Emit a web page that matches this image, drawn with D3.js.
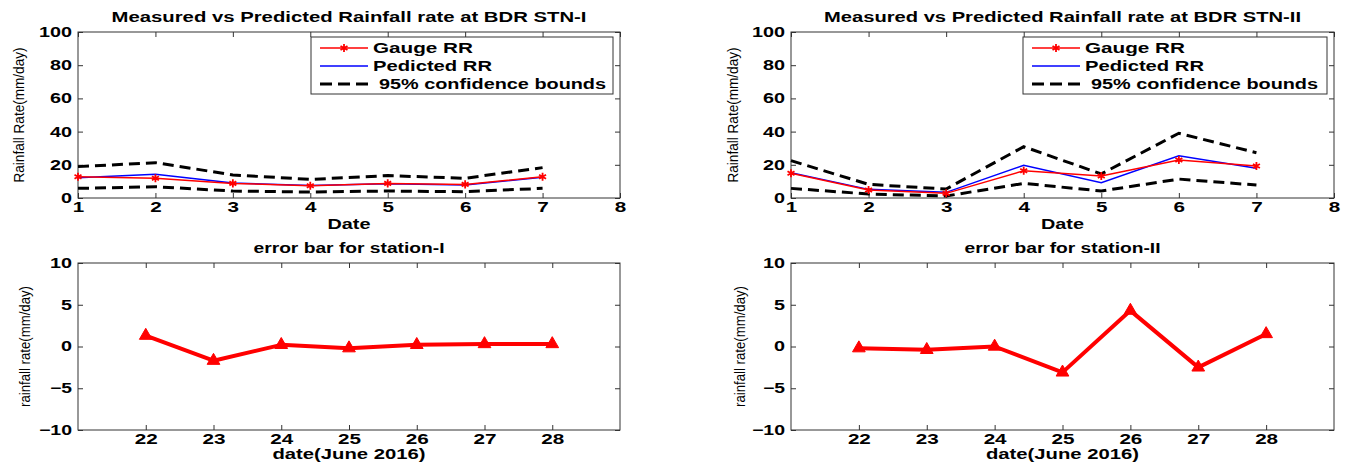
<!DOCTYPE html>
<html><head><meta charset="utf-8">
<script src="https://cdn.jsdelivr.net/npm/d3@7/dist/d3.min.js"></script>
<style>
body{margin:0;background:#fff;}
svg{display:block;}
text{font-family:"Liberation Sans",Arial,sans-serif;}
</style></head>
<body><svg id="c" width="1345" height="465"></svg>
<script>
// ---- data ----
const dates = [1, 2, 3, 4, 5, 6, 7];
const xTicksTop = [1, 2, 3, 4, 5, 6, 7, 8];
const yTicksTop = [0, 20, 40, 60, 80, 100];
const gauge1 = [12.8, 11.9, 8.8, 7.4, 8.8, 8.2, 12.8];
const pred1  = [12.2, 14.3, 9.0, 7.6, 8.6, 7.8, 12.5];
const upper1 = [18.9, 21.3, 13.9, 11.2, 13.5, 11.9, 18.3];
const lower1 = [5.8, 6.8, 4.2, 3.6, 4.2, 3.8, 5.8];
const gauge2 = [14.9, 4.8, 2.8, 16.4, 13.3, 22.9, 19.3];
const pred2  = [15.2, 5.2, 3.4, 19.7, 9.2, 25.5, 17.9];
const upper2 = [22.5, 8.2, 5.4, 30.9, 14.5, 39.0, 27.3];
const lower2 = [5.8, 2.4, 1.2, 8.8, 4.2, 11.4, 7.8];
const errDays = [22, 23, 24, 25, 26, 27, 28];
const yTicksErr = [-10, -5, 0, 5, 10];
const err1 = [1.3, -1.7, 0.2, -0.2, 0.2, 0.3, 0.3];
const err2 = [-0.2, -0.4, 0.0, -3.1, 4.3, -2.5, 1.5];
const legendLabels = ["Gauge RR", "Pedicted RR", "95% confidence bounds"];
const titlesTop = ["Measured vs Predicted Rainfall rate at BDR STN-I", "Measured vs Predicted Rainfall rate at BDR STN-II"];
const titlesBottom = ["error bar for station-I", "error bar for station-II"];

const svg = d3.select("#c");
const AX = "#333";

function styleTicks(g, lenPerChar) {
  g.select(".domain").remove();
  g.selectAll(".tick line").attr("stroke", AX);
  g.selectAll(".tick text")
    .attr("fill", "#000").attr("font-size", 14).attr("font-weight", "bold")
    .each(function() {
      const t = this.textContent;
      if (!t) return;
      let L = 0;
      for (const ch of t) L += (ch === "-" ? 7 : lenPerChar);
      d3.select(this).attr("textLength", L).attr("lengthAdjust", "spacingAndGlyphs");
    });
}

function panel(o) {
  const x = d3.scaleLinear().domain(o.xdom).range([o.l, o.r]);
  const y = d3.scaleLinear().domain(o.ydom).range([o.b, o.t]);
  const g = svg.append("g");
  // axes
  g.append("g").attr("transform", `translate(0,${o.b})`)
    .call(d3.axisBottom(x).tickValues(o.xticks).tickFormat(d3.format("d")).tickSize(-5).tickPadding(4))
    .call(a => styleTicks(a, 11.5));
  g.append("g").attr("transform", `translate(0,${o.t})`)
    .call(d3.axisTop(x).tickValues(o.xticks).tickFormat("").tickSize(-5))
    .call(a => styleTicks(a, 11.5));
  g.append("g").attr("transform", `translate(${o.l},0)`)
    .call(d3.axisLeft(y).tickValues(o.yticks).tickFormat(d3.format("d")).tickSize(-5).tickPadding(6))
    .call(a => styleTicks(a, 11));
  g.append("g").attr("transform", `translate(${o.r},0)`)
    .call(d3.axisRight(y).tickValues(o.yticks).tickFormat("").tickSize(-5))
    .call(a => styleTicks(a, 11));
  g.append("rect").attr("x", o.l).attr("y", o.t).attr("width", o.r - o.l).attr("height", o.b - o.t)
    .attr("fill", "none").attr("stroke", AX).attr("stroke-width", 1);
  // titles
  const cx = (o.l + o.r) / 2;
  g.append("text").attr("x", cx).attr("y", o.titleY).attr("text-anchor", "middle")
    .attr("font-size", 14).attr("font-weight", "bold")
    .attr("textLength", o.titleLen).attr("lengthAdjust", "spacingAndGlyphs").text(o.title);
  g.append("text").attr("x", cx).attr("y", o.xlabY).attr("text-anchor", "middle")
    .attr("font-size", 14).attr("font-weight", "bold")
    .attr("textLength", o.xlabLen).attr("lengthAdjust", "spacingAndGlyphs").text(o.xlab);
  g.append("text").attr("transform", `translate(${o.ylabX},${(o.t + o.b) / 2}) rotate(-90)`)
    .attr("text-anchor", "middle").attr("font-size", 15)
    .attr("textLength", o.ylabLen).attr("lengthAdjust", "spacingAndGlyphs").text(o.ylab);
  return {g, x, y};
}

const line = (x, y, xs) => d3.line().x((d, i) => x(xs[i])).y(d => y(d));
const star = d3.symbol().type(d3.symbolAsterisk).size(45);
const tri = d3.symbol().type(d3.symbolTriangle).size(70);

function topPanel(idx, l, r, gauge, pred, upper, lower, ylabX) {
  const p = panel({l, r, t: 32, b: 198, xdom: [1, 8], ydom: [0, 100], xticks: xTicksTop, yticks: yTicksTop,
    title: titlesTop[idx], titleY: 22, titleLen: idx ? 477 : 475, xlab: "Date", xlabY: 229, xlabLen: 43,
    ylab: "Rainfall Rate(mm/day)", ylabX, ylabLen: 135});
  const {g, x, y} = p;
  const L = line(x, y, dates);
  [upper, lower].forEach(s => g.append("path").attr("d", L(s)).attr("fill", "none")
    .attr("stroke", "#000").attr("stroke-width", 3).attr("stroke-dasharray", "11,6"));
  g.append("path").attr("d", L(pred)).attr("fill", "none").attr("stroke", "#0000ff").attr("stroke-width", 1.5);
  g.append("path").attr("d", L(gauge)).attr("fill", "none").attr("stroke", "#ff0000").attr("stroke-width", 1.5);
  g.selectAll(".st").data(gauge).join("path").attr("d", star)
    .attr("transform", (d, i) => `translate(${x(dates[i])},${y(d)})`)
    .attr("fill", "none").attr("stroke", "#ff0000").attr("stroke-width", 1.8);
  // legend
  const lx = idx ? 1023 : 311, lw = idx ? 304 : 302;
  g.append("rect").attr("x", lx).attr("y", 37).attr("width", lw).attr("height", 57)
    .attr("fill", "#fff").attr("stroke", AX).attr("stroke-width", 1);
  const sx0 = lx + 9, sx1 = lx + 57, rows = [48, 66, 84];
  g.append("line").attr("x1", sx0).attr("x2", sx1).attr("y1", rows[0]).attr("y2", rows[0]).attr("stroke", "#ff0000").attr("stroke-width", 1.5);
  g.append("path").attr("d", star).attr("transform", `translate(${(sx0 + sx1) / 2},${rows[0]})`)
    .attr("fill", "none").attr("stroke", "#ff0000").attr("stroke-width", 1.8);
  g.append("line").attr("x1", sx0).attr("x2", sx1).attr("y1", rows[1]).attr("y2", rows[1]).attr("stroke", "#0000ff").attr("stroke-width", 1.5);
  g.append("line").attr("x1", sx0).attr("x2", sx1).attr("y1", rows[2]).attr("y2", rows[2]).attr("stroke", "#000").attr("stroke-width", 3).attr("stroke-dasharray", "12,6");
  const tx = lx + 62, lens = [100, 119, 227];
  legendLabels.forEach((t, i) => g.append("text").attr("x", i === 2 ? tx + 6 : tx).attr("y", rows[i] + 5)
    .attr("font-size", 14).attr("font-weight", "bold")
    .attr("textLength", lens[i]).attr("lengthAdjust", "spacingAndGlyphs").text(t));
}

function errPanel(idx, l, r, err, ylabX) {
  const p = panel({l, r, t: 263, b: 430, xdom: [21, 29], ydom: [-10, 10], xticks: errDays, yticks: yTicksErr,
    title: titlesBottom[idx], titleY: 253, titleLen: idx ? 196 : 191, xlab: "date(June 2016)", xlabY: 459, xlabLen: 153,
    ylab: "rainfall rate(mm/day)", ylabX, ylabLen: 121});
  const {g, x, y} = p;
  g.append("path").attr("d", line(x, y, errDays)(err)).attr("fill", "none")
    .attr("stroke", "#ff0000").attr("stroke-width", 4).attr("stroke-linejoin", "round");
  g.selectAll(".tr").data(err).join("path").attr("d", tri)
    .attr("transform", (d, i) => `translate(${x(errDays[i])},${y(d)})`)
    .attr("fill", "#ff0000").attr("stroke", "#ff0000").attr("stroke-width", 1);
}

topPanel(0, 78, 620, gauge1, pred1, upper1, lower1, 24);
topPanel(1, 791, 1334, gauge2, pred2, upper2, lower2, 738);
errPanel(0, 78, 620, err1, 30);
errPanel(1, 791, 1334, err2, 745);
</script></body></html>
